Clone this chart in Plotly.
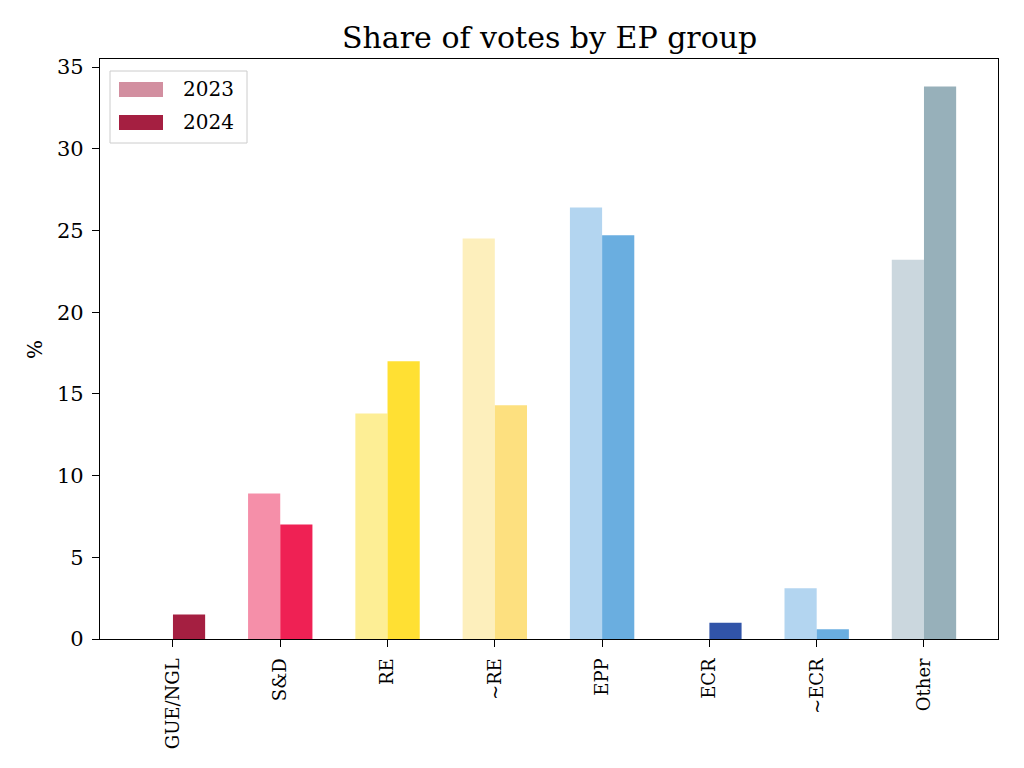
import plotly.graph_objects as go

categories = ["GUE/NGL", "S&D", "RE", "~RE", "EPP", "ECR", "~ECR", "Other"]
votes_2023 = [0, 8.9, 13.8, 24.5, 26.4, 0, 3.1, 23.2]
votes_2024 = [1.5, 7.0, 17.0, 14.3, 24.7, 1.0, 0.6, 33.8]
colors_2023 = ["#d28fa0", "#f58fa9", "#fdee95", "#fdefbc", "#b3d5f0", "#98a9d3", "#b3d5f0", "#cbd7de"]
colors_2024 = ["#a51f41", "#ef2154", "#ffe033", "#fde07f", "#6aaee0", "#3154a8", "#6aaee0", "#97b0ba"]
series_names = ["2023", "2024"]

FONT = "DejaVu Serif"
W, H = 1024, 768
OFF = 8  # page body margin
# desired screen-space plot box
SX0, SX1, SY0, SY1 = 100, 998, 59, 639
L = SX0 - OFF
R = W - (SX1 - OFF)
T = SY0 - OFF
B = H - (SY1 - OFF)
PW, PH = SX1 - SX0, SY1 - SY0


def px(x):
    return (x - SX0) / PW


def py(y):
    return (SY1 - y) / PH


fig = go.Figure()
fig.add_trace(go.Bar(x=categories, y=votes_2023, name=series_names[0],
                     marker=dict(color=colors_2023, line=dict(width=0))))
fig.add_trace(go.Bar(x=categories, y=votes_2024, name=series_names[1],
                     marker=dict(color=colors_2024, line=dict(width=0))))

shapes = [
    dict(type="rect", xref="paper", yref="paper", x0=px(110), x1=px(247), y0=py(143), y1=py(71),
         line=dict(color="#cccccc", width=1), fillcolor="rgba(255,255,255,0.8)", layer="above"),
    dict(type="rect", xref="paper", yref="paper", x0=px(119), x1=px(163), y0=py(97), y1=py(82),
         line=dict(width=0), fillcolor=colors_2023[0], layer="above"),
    dict(type="rect", xref="paper", yref="paper", x0=px(119), x1=px(163), y0=py(130), y1=py(115),
         line=dict(width=0), fillcolor=colors_2024[0], layer="above"),
]
annotations = [
    dict(text=series_names[0], xref="paper", yref="paper", x=px(181), y=py(89), xanchor="left",
         yanchor="middle", showarrow=False, font=dict(family=FONT, size=20, color="black")),
    dict(text=series_names[1], xref="paper", yref="paper", x=px(181), y=py(122), xanchor="left",
         yanchor="middle", showarrow=False, font=dict(family=FONT, size=20, color="black")),
    dict(text="%", xref="paper", yref="paper", x=px(35), y=py(350), xanchor="center", yanchor="middle",
         textangle=-90, showarrow=False, font=dict(family=FONT, size=20, color="black")),
    dict(text="Share of votes by EP group", xref="paper", yref="paper", x=0.5, y=py(37),
         xanchor="center", yanchor="middle", showarrow=False,
         font=dict(family=FONT, size=30, color="black")),
]

fig.update_layout(
    width=W, height=H,
    margin=dict(l=L, r=R, t=T, b=B, pad=0),
    paper_bgcolor="white", plot_bgcolor="white",
    barmode="group", bargap=0.4, bargroupgap=0,
    showlegend=False,
    font=dict(family=FONT, size=18, color="black"),
    shapes=shapes, annotations=annotations,
)
fig.update_xaxes(range=[-0.68, 7.69], tickangle=-90, ticks="outside", ticklen=7, tickwidth=1.3,
                 tickcolor="black", showline=True, linecolor="black", linewidth=1.3, mirror=True,
                 showgrid=False, zeroline=False, tickfont=dict(family=FONT, size=18),
                 ticklabelstandoff=4)
fig.update_yaxes(range=[0, 35.49], tickvals=[0, 5, 10, 15, 20, 25, 30, 35], ticks="outside", ticklen=7,
                 tickwidth=1.3, tickcolor="black", showline=True, linecolor="black", linewidth=1.3,
                 mirror=True, showgrid=False, zeroline=False, tickfont=dict(family=FONT, size=21),
                 ticklabelstandoff=4)

fig.write_html("out.html")
